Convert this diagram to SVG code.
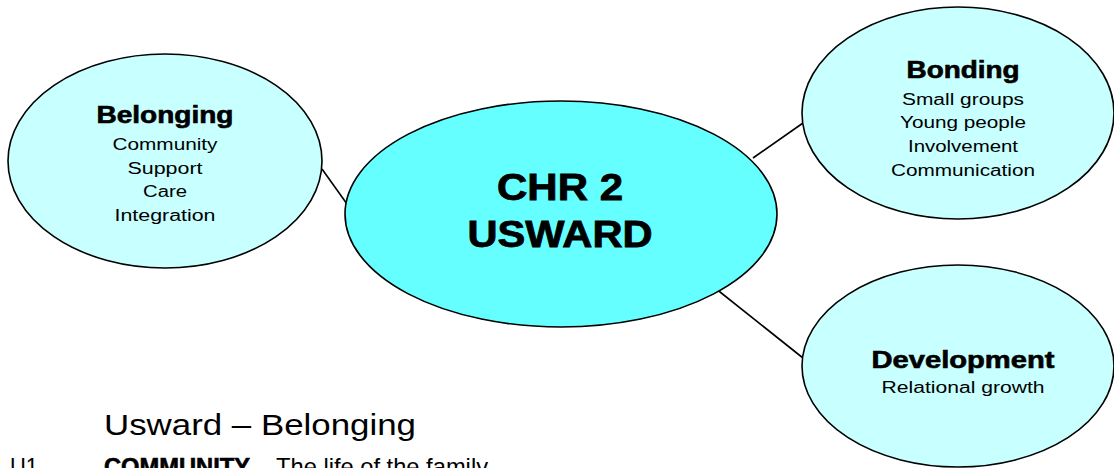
<svg xmlns="http://www.w3.org/2000/svg" width="1114" height="468" viewBox="0 0 1114 468">
<style>
.n{stroke:#000;stroke-width:1.6}
.side{fill:#c8ffff}
.core{fill:#66ffff}
text{font-family:"Liberation Sans",Arial,sans-serif;fill:#000;text-anchor:middle}
.t{font-weight:bold;font-size:23px;stroke:#000;stroke-width:0.6}
.b{font-size:16px}
.c{font-weight:bold;font-size:36px;stroke:#000;stroke-width:0.8}
.l{stroke:#000;stroke-width:1.6;fill:none}
.s{text-anchor:start}
</style>
<rect width="1114" height="468" fill="#fff"/>
<g id="connectors">
<line class="l" x1="322" y1="169" x2="347" y2="204"/>
<line class="l" x1="753" y1="158" x2="803" y2="123"/>
<line class="l" x1="715" y1="288" x2="803" y2="358"/>
</g>
<g id="belonging">
<ellipse class="n side" cx="165" cy="161" rx="157" ry="107"/>
<text class="t" x="165" y="123" textLength="137" lengthAdjust="spacingAndGlyphs">Belonging</text>
<text class="b" x="165" y="150" textLength="105" lengthAdjust="spacingAndGlyphs">Community</text>
<text class="b" x="165" y="174" textLength="75" lengthAdjust="spacingAndGlyphs">Support</text>
<text class="b" x="165" y="197" textLength="44" lengthAdjust="spacingAndGlyphs">Care</text>
<text class="b" x="165" y="221" textLength="101" lengthAdjust="spacingAndGlyphs">Integration</text>
</g>
<g id="center">
<ellipse class="n core" cx="561" cy="214" rx="216" ry="113"/>
<text class="c" x="560" y="200" textLength="126" lengthAdjust="spacingAndGlyphs">CHR 2</text>
<text class="c" x="560" y="247" textLength="185" lengthAdjust="spacingAndGlyphs">USWARD</text>
</g>
<g id="bonding">
<ellipse class="n side" cx="958" cy="113" rx="156" ry="106"/>
<text class="t" x="963" y="78" textLength="113" lengthAdjust="spacingAndGlyphs">Bonding</text>
<text class="b" x="963" y="105" textLength="122" lengthAdjust="spacingAndGlyphs">Small groups</text>
<text class="b" x="963" y="128" textLength="126" lengthAdjust="spacingAndGlyphs">Young people</text>
<text class="b" x="963" y="152" textLength="110" lengthAdjust="spacingAndGlyphs">Involvement</text>
<text class="b" x="963" y="176" textLength="144" lengthAdjust="spacingAndGlyphs">Communication</text>
</g>
<g id="development">
<ellipse class="n side" cx="958" cy="366" rx="156" ry="101"/>
<text class="t" x="963" y="368" textLength="183" lengthAdjust="spacingAndGlyphs">Development</text>
<text class="b" x="963" y="393" textLength="163" lengthAdjust="spacingAndGlyphs">Relational growth</text>
</g>
<g id="caption">
<text class="s" x="104" y="435" style="font-size:29px" textLength="312" lengthAdjust="spacingAndGlyphs">Usward – Belonging</text>
<text class="s" x="10" y="475" style="font-size:24px" textLength="28" lengthAdjust="spacingAndGlyphs">U1</text>
<text class="s" x="104" y="475" style="font-size:24px" textLength="384" lengthAdjust="spacingAndGlyphs"><tspan font-weight="bold" stroke="#000" stroke-width="0.6">COMMUNITY</tspan> – The life of the family</text>
</g>
</svg>
